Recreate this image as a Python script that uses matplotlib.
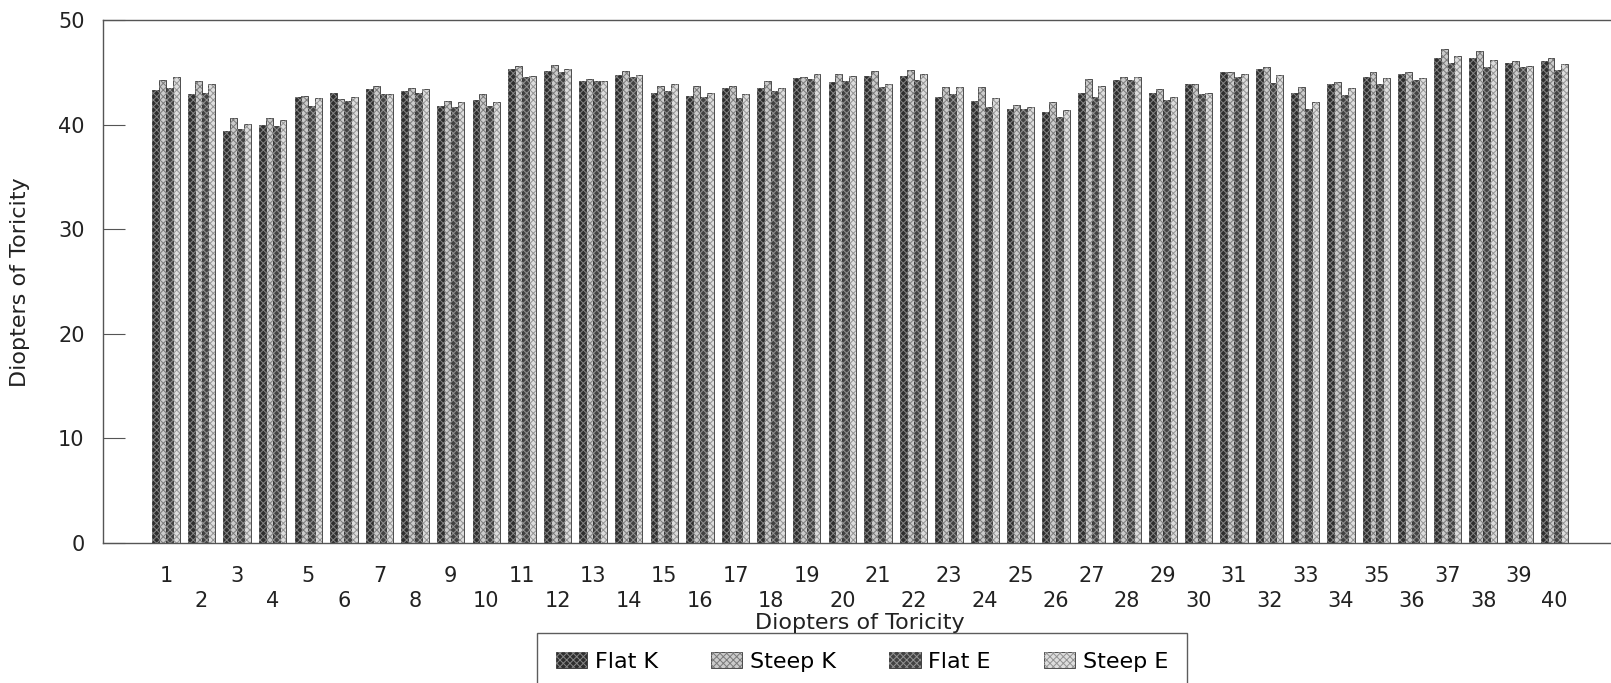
import numpy as np
import matplotlib
matplotlib.use("Agg")
from matplotlib import pyplot as plt
from matplotlib.legend_handler import HandlerTuple

plt.rcParams["font.family"] = ["DejaVu Sans"]
plt.rcParams["hatch.linewidth"] = 0.7

# === data ===
groups = list(range(1, 41))
flat_k = [43.3, 43.0, 39.4, 40.0, 42.7, 43.1, 43.4, 43.2, 41.8, 42.4,
          45.4, 45.2, 44.2, 44.8, 43.1, 42.8, 43.5, 43.5, 44.5, 44.1,
          44.7, 44.7, 42.7, 42.3, 41.5, 41.2, 43.1, 44.3, 43.1, 43.9,
          45.1, 45.4, 43.1, 43.9, 44.6, 44.9, 46.4, 46.4, 45.9, 46.1]
steep_k = [44.3, 44.2, 40.7, 40.7, 42.8, 42.5, 43.7, 43.5, 42.3, 43.0,
           45.6, 45.7, 44.4, 45.2, 43.7, 43.7, 43.7, 44.2, 44.6, 44.9,
           45.2, 45.3, 43.6, 43.6, 41.9, 42.2, 44.4, 44.6, 43.4, 43.9,
           45.1, 45.5, 43.6, 44.1, 45.1, 45.1, 47.3, 47.1, 46.1, 46.4]
flat_e = [43.5, 43.1, 39.6, 39.9, 41.8, 42.3, 43.0, 43.1, 41.7, 41.8,
          44.6, 45.1, 44.2, 44.6, 43.2, 42.7, 42.6, 43.2, 44.4, 44.2,
          43.6, 44.3, 43.0, 41.7, 41.5, 40.8, 42.7, 44.3, 42.4, 43.0,
          44.6, 44.0, 41.5, 42.9, 43.9, 44.3, 45.9, 45.5, 45.5, 45.3]
steep_e = [44.6, 43.9, 40.1, 40.5, 42.6, 42.7, 43.0, 43.4, 42.2, 42.2,
           44.7, 45.4, 44.2, 44.8, 43.9, 43.1, 43.0, 43.5, 44.9, 44.7,
           43.9, 44.9, 43.6, 42.6, 41.7, 41.4, 43.7, 44.6, 42.7, 43.1,
           44.9, 44.8, 42.2, 43.5, 44.5, 44.5, 46.6, 46.2, 45.6, 45.8]

# name, values, face colour, hatch colour
series = [("Flat K", flat_k, "#2e2e2e", "#858585"),
          ("Steep K", steep_k, "#cbcbcb", "#7a7a7a"),
          ("Flat E", flat_e, "#424242", "#939393"),
          ("Steep E", steep_e, "#dddddd", "#939393")]

fig = plt.figure(figsize=(16.11, 6.83), dpi=100)
ax = fig.add_axes([0.0637, 0.2057, 0.9363, 0.7643])

x = np.array(groups)
w = 0.193
handles = []
for i, (name, vals, face, hatch_col) in enumerate(series):
    pos = x + (i - 1.5) * w
    base = ax.bar(pos, vals, w, color=face, edgecolor="#333333", linewidth=0.6, label=name)
    top = ax.bar(pos, vals, w, facecolor="none", edgecolor=hatch_col, linewidth=0, hatch="xxxxx")
    handles.append((base, top))

ax.set_xlim(-0.778, 41.59)
ax.set_ylim(0, 50)
ax.set_yticks([0, 10, 20, 30, 40, 50])
ax.tick_params(axis="y", direction="in", length=16, width=0.8, color="#555555",
               labelsize=15, pad=13, labelcolor="#222222")
ax.set_xticks(x)
ax.set_xticklabels([str(g) for g in groups])
ax.tick_params(axis="x", length=0, labelsize=15, labelcolor="#222222")
# staggered labels: odd on the first row, even on the second
for tick in ax.xaxis.get_major_ticks():
    if int(tick.label1.get_text()) % 2 == 0:
        tick.set_pad(35)
    else:
        tick.set_pad(17)

for s in ["left", "top", "bottom"]:
    ax.spines[s].set_color("#555555")
    ax.spines[s].set_linewidth(1.0)
ax.spines["right"].set_visible(False)

fig.text(20 / 1611, 1 - 282 / 683, "Diopters of Toricity", rotation=90,
         ha="center", va="center", fontsize=16, color="#222222")

leg = fig.legend(handles, [s[0] for s in series], ncol=4, loc="upper left",
                 bbox_to_anchor=(537 / 1611, 1 - 633 / 683), bbox_transform=fig.transFigure,
                 borderaxespad=0, fontsize=16, frameon=True, fancybox=False,
                 handlelength=1.4, handleheight=0.7, handletextpad=0.35,
                 columnspacing=2.4, borderpad=0.85,
                 handler_map={tuple: HandlerTuple(ndivide=1)})
leg.get_frame().set_edgecolor("#333333")
leg.get_frame().set_linewidth(1.0)

# x label sits on top of the legend frame, as in the source
fig.text(860 / 1611, 1 - 623 / 683, "Diopters of Toricity",
         ha="center", va="center", fontsize=16, color="#222222", zorder=10)

plt.savefig("out.png")
plt.close()
